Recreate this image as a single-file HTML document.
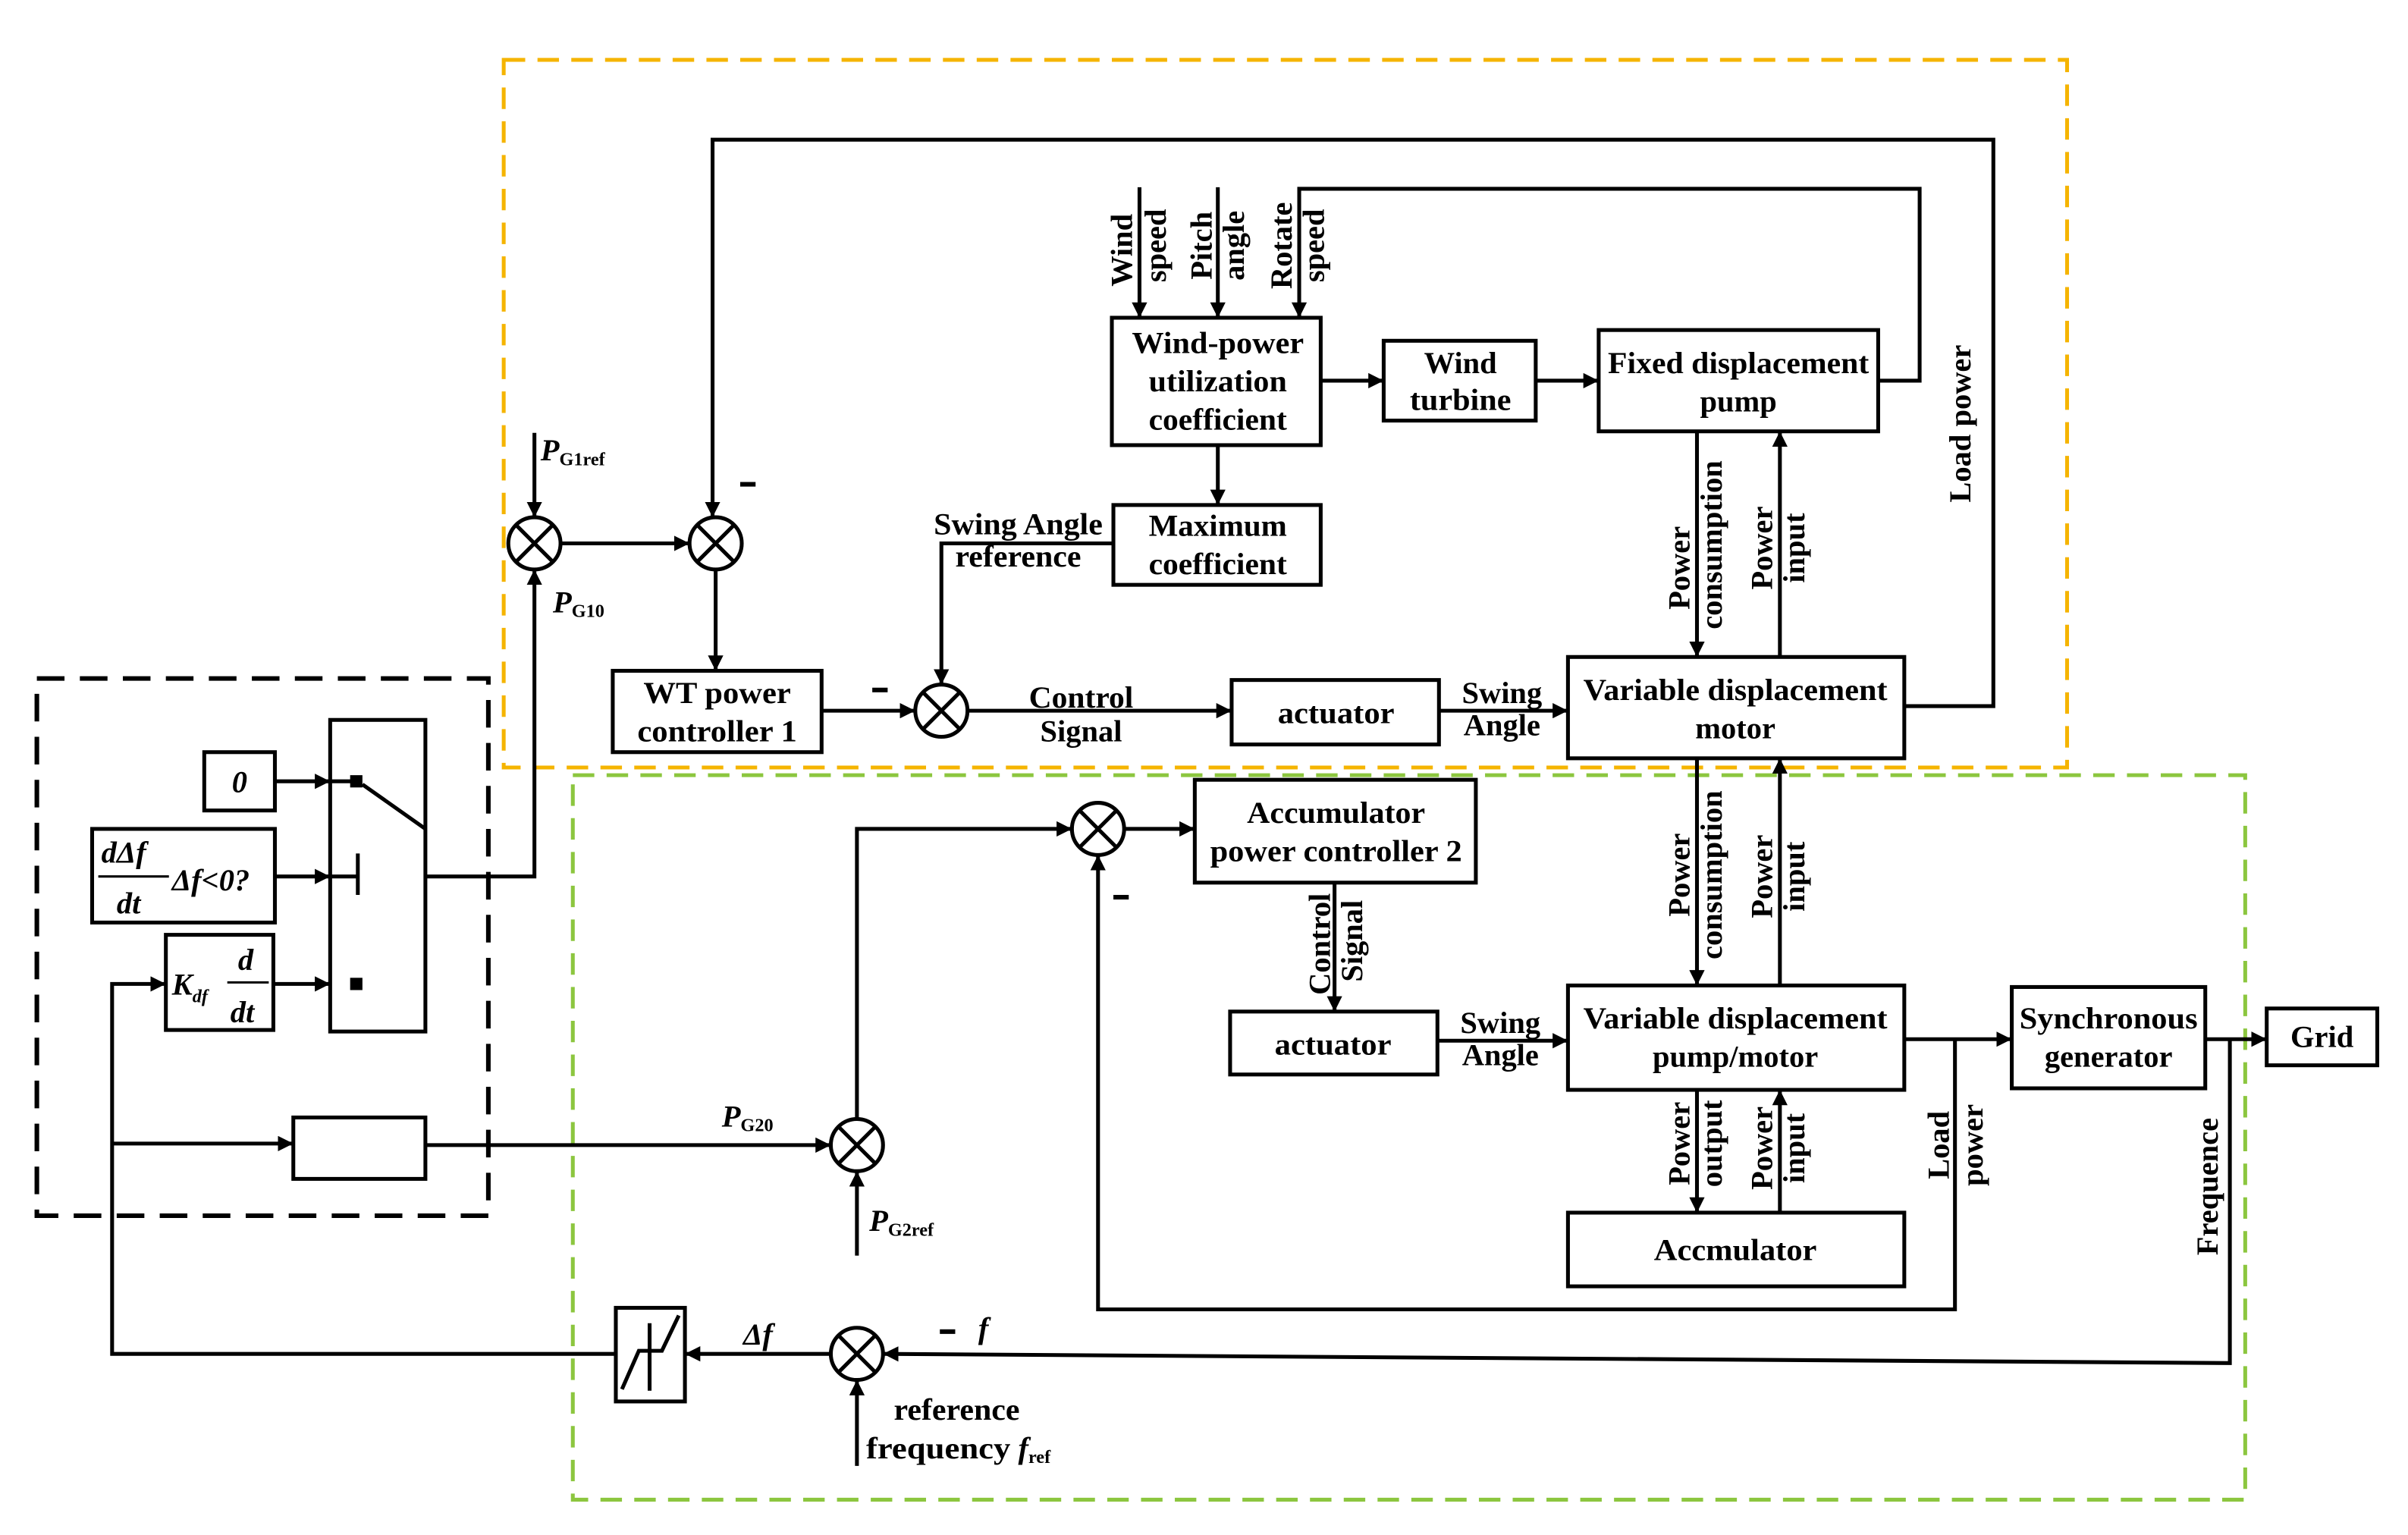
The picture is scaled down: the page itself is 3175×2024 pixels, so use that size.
<!DOCTYPE html>
<html><head><meta charset="utf-8"><style>
html,body{margin:0;padding:0;background:#fff}
svg{display:block}
text{font-family:"Liberation Serif",serif;font-weight:bold;font-size:20px;fill:#000}
.c{text-anchor:middle}
</style></head><body>
<svg width="3175" height="2024" viewBox="0 0 1568 1000" preserveAspectRatio="none" xmlns="http://www.w3.org/2000/svg">
<defs>
<marker id="a" markerWidth="10" markerHeight="10" refX="9" refY="5" orient="auto" markerUnits="userSpaceOnUse">
<path d="M0,0 L10,5 L0,10 z" fill="#000"/></marker>
</defs>
<rect x="328" y="39" width="1018" height="461" fill="none" stroke="#f5b400" stroke-width="2.5" stroke-dasharray="14,8"/>
<rect x="373" y="505" width="1089" height="472" fill="none" stroke="#8cc63f" stroke-width="2.5" stroke-dasharray="14,8"/>
<rect x="24" y="442" width="294" height="350" fill="none" stroke="#000" stroke-width="3" stroke-dasharray="18,10"/>

<g fill="none" stroke="#000" stroke-width="2.5">
<rect x="399" y="437" width="136" height="53"/>
<rect x="724" y="207" width="136" height="83"/>
<rect x="901" y="222" width="99" height="52"/>
<rect x="1041" y="215" width="182" height="66"/>
<rect x="725" y="329" width="135" height="52"/>
<rect x="802" y="443" width="135" height="42"/>
<rect x="1021" y="428" width="219" height="66"/>
<rect x="778" y="508" width="183" height="67"/>
<rect x="801" y="659" width="135" height="41"/>
<rect x="1021" y="642" width="219" height="68"/>
<rect x="1021" y="790" width="219" height="48"/>
<rect x="1310" y="643" width="126" height="66"/>
<rect x="1476" y="657" width="72" height="37"/>
<rect x="215" y="469" width="62" height="203"/>
<rect x="133" y="490" width="46" height="38"/>
<rect x="60" y="540" width="119" height="61"/>
<rect x="108" y="609" width="70" height="62"/>
<rect x="191" y="728" width="86" height="40"/>
<rect x="401" y="852" width="45" height="61"/>
<g>
<circle cx="348" cy="354" r="17"/><path d="M336,342 L360,366 M360,342 L336,366"/>
<circle cx="466" cy="354" r="17"/><path d="M454,342 L478,366 M478,342 L454,366"/>
<circle cx="613" cy="463" r="17"/><path d="M601,451 L625,475 M625,451 L601,475"/>
<circle cx="715" cy="540" r="17"/><path d="M703,528 L727,552 M727,528 L703,552"/>
<circle cx="558" cy="746" r="17"/><path d="M546,734 L570,758 M570,734 L546,758"/>
<circle cx="558" cy="882" r="17"/><path d="M546,870 L570,894 M570,870 L546,894"/>
</g>
<path d="M1240,460 H1298 V91 H464 V336" marker-end="url(#a)"/>
<path d="M348,282 V336" marker-end="url(#a)"/>
<path d="M277,571 H348 V372" marker-end="url(#a)"/>
<path d="M365,354 H448" marker-end="url(#a)"/>
<path d="M466,371 V436" marker-end="url(#a)"/>
<path d="M535,463 H595" marker-end="url(#a)"/>
<path d="M725,354 H613 V445" marker-end="url(#a)"/>
<path d="M630,463 H801" marker-end="url(#a)"/>
<path d="M937,463 H1020" marker-end="url(#a)"/>
<path d="M742,122 V206" marker-end="url(#a)"/>
<path d="M793,122 V206" marker-end="url(#a)"/>
<path d="M1223,248 H1250 V123 H846 V206" marker-end="url(#a)"/>
<path d="M860,248 H900" marker-end="url(#a)"/>
<path d="M1000,248 H1040" marker-end="url(#a)"/>
<path d="M793,290 V328" marker-end="url(#a)"/>
<path d="M1105,281 V427" marker-end="url(#a)"/>
<path d="M1159,428 V282" marker-end="url(#a)"/>
<path d="M1105,494 V641" marker-end="url(#a)"/>
<path d="M1159,642 V495" marker-end="url(#a)"/>
<path d="M1105,710 V789" marker-end="url(#a)"/>
<path d="M1159,790 V711" marker-end="url(#a)"/>
<path d="M732,540 H777" marker-end="url(#a)"/>
<path d="M558,729 V540 H697" marker-end="url(#a)"/>
<path d="M1273,677 V853 H715 V558" marker-end="url(#a)"/>
<path d="M869,575 V658" marker-end="url(#a)"/>
<path d="M936,678 H1020" marker-end="url(#a)"/>
<path d="M1240,677 H1309" marker-end="url(#a)"/>
<path d="M1436,677 H1475" marker-end="url(#a)"/>
<path d="M1452,677 V888 L576,882" marker-end="url(#a)"/>
<path d="M541,882 H447" marker-end="url(#a)"/>
<path d="M401,882 H73 V641 H107" marker-end="url(#a)"/>
<path d="M73,745 H190" marker-end="url(#a)"/>
<path d="M277,746 H540" marker-end="url(#a)"/>
<path d="M558,818 V764" marker-end="url(#a)"/>
<path d="M558,955 V900" marker-end="url(#a)"/>
<path d="M179,509 H214" marker-end="url(#a)"/>
<path d="M179,571 H214" marker-end="url(#a)"/>
<path d="M178,641 H214" marker-end="url(#a)"/>
<path d="M215,509 H232 M236,511 L277,540 M215,571 H233 M233,556 V583"/>
<path d="M405,905 L416,880 H431 L442,857 M423,862 V906"/>
<path d="M64,571 H110 M148,640 H175" stroke-width="1.5"/>
</g>
<rect x="228" y="505" width="8" height="8"/>
<rect x="228" y="637" width="8" height="8"/>
<!-- minus signs -->
<rect x="482" y="314" width="10" height="3"/>
<rect x="568" y="448" width="10" height="3"/>
<rect x="725" y="583" width="10" height="3"/>
<rect x="612" y="866" width="10" height="3"/>

<text x="467" y="458" class="c" textLength="96" lengthAdjust="spacingAndGlyphs">WT power</text>
<text x="467" y="483" class="c" textLength="104" lengthAdjust="spacingAndGlyphs">controller 1</text>
<text x="793" y="230" class="c" textLength="112" lengthAdjust="spacingAndGlyphs">Wind-power</text>
<text x="793" y="255" class="c" textLength="90" lengthAdjust="spacingAndGlyphs">utilization</text>
<text x="793" y="280" class="c" textLength="90" lengthAdjust="spacingAndGlyphs">coefficient</text>
<text x="951" y="243" class="c">Wind</text>
<text x="951" y="267" class="c" textLength="66" lengthAdjust="spacingAndGlyphs">turbine</text>
<text x="1132" y="243" class="c" textLength="170" lengthAdjust="spacingAndGlyphs">Fixed displacement</text>
<text x="1132" y="268" class="c">pump</text>
<text x="793" y="349" class="c" textLength="90" lengthAdjust="spacingAndGlyphs">Maximum</text>
<text x="793" y="374" class="c" textLength="90" lengthAdjust="spacingAndGlyphs">coefficient</text>
<text x="663" y="348" class="c" textLength="110" lengthAdjust="spacingAndGlyphs">Swing Angle</text>
<text x="663" y="369" class="c" textLength="82" lengthAdjust="spacingAndGlyphs">reference</text>
<text x="704" y="461" class="c" textLength="68" lengthAdjust="spacingAndGlyphs">Control</text>
<text x="704" y="483" class="c">Signal</text>
<text x="870" y="471" class="c" textLength="76" lengthAdjust="spacingAndGlyphs">actuator</text>
<text x="978" y="458" class="c">Swing</text>
<text x="978" y="479" class="c">Angle</text>
<text x="1130" y="456" class="c" textLength="198" lengthAdjust="spacingAndGlyphs">Variable displacement</text>
<text x="1130" y="481" class="c">motor</text>
<text x="870" y="536" class="c" textLength="116" lengthAdjust="spacingAndGlyphs">Accumulator</text>
<text x="870" y="561" class="c" textLength="164" lengthAdjust="spacingAndGlyphs">power controller 2</text>
<text x="868" y="687" class="c" textLength="76" lengthAdjust="spacingAndGlyphs">actuator</text>
<text x="977" y="673" class="c">Swing</text>
<text x="977" y="694" class="c">Angle</text>
<text x="1130" y="670" class="c" textLength="198" lengthAdjust="spacingAndGlyphs">Variable displacement</text>
<text x="1130" y="695" class="c">pump/motor</text>
<text x="1130" y="821" class="c" textLength="106" lengthAdjust="spacingAndGlyphs">Accmulator</text>
<text x="1373" y="670" class="c" textLength="116" lengthAdjust="spacingAndGlyphs">Synchronous</text>
<text x="1373" y="695" class="c">generator</text>
<text x="1512" y="682" class="c">Grid</text>
<text x="156" y="516" class="c" font-style="italic">0</text>

<g>
<text transform="translate(737,163) rotate(-90)" class="c">Wind</text>
<text transform="translate(759,160) rotate(-90)" class="c">speed</text>
<text transform="translate(789,160) rotate(-90)" class="c">Pitch</text>
<text transform="translate(810,160) rotate(-90)" class="c">angle</text>
<text transform="translate(841,160) rotate(-90)" class="c">Rotate</text>
<text transform="translate(862,160) rotate(-90)" class="c">speed</text>
<text transform="translate(1283,276) rotate(-90)" class="c">Load power</text>
<text transform="translate(1100,370) rotate(-90)" class="c">Power</text>
<text transform="translate(1121,355) rotate(-90)" class="c">consumption</text>
<text transform="translate(1154,357) rotate(-90)" class="c">Power</text>
<text transform="translate(1175,357) rotate(-90)" class="c">input</text>
<text transform="translate(1100,570) rotate(-90)" class="c">Power</text>
<text transform="translate(1121,570) rotate(-90)" class="c">consumption</text>
<text transform="translate(1154,571) rotate(-90)" class="c">Power</text>
<text transform="translate(1175,571) rotate(-90)" class="c">input</text>
<text transform="translate(1100,745) rotate(-90)" class="c">Power</text>
<text transform="translate(1121,745) rotate(-90)" class="c">output</text>
<text transform="translate(1154,748) rotate(-90)" class="c">Power</text>
<text transform="translate(1175,748) rotate(-90)" class="c">input</text>
<text transform="translate(1269,746) rotate(-90)" class="c">Load</text>
<text transform="translate(1291,746) rotate(-90)" class="c">power</text>
<text transform="translate(1444,773) rotate(-90)" class="c">Frequence</text>
<text transform="translate(866,615) rotate(-90)" class="c">Control</text>
<text transform="translate(887,613) rotate(-90)" class="c">Signal</text>
</g>

<text x="637" y="872" font-style="italic">f</text>
<text x="484" y="876" font-style="italic">Δf</text>
<text x="352" y="300" font-style="italic">P<tspan font-size="12" font-style="normal" dy="3">G1ref</tspan></text>
<text x="360" y="399" font-style="italic">P<tspan font-size="12" font-style="normal" dy="3">G10</tspan></text>
<text x="470" y="734" font-style="italic">P<tspan font-size="12" font-style="normal" dy="3">G20</tspan></text>
<text x="566" y="802" font-style="italic">P<tspan font-size="12" font-style="normal" dy="3">G2ref</tspan></text>
<text x="623" y="925" class="c" textLength="82" lengthAdjust="spacingAndGlyphs">reference</text>
<text x="564" y="950" textLength="94" lengthAdjust="spacingAndGlyphs">frequency</text>
<text x="663" y="950" font-style="italic">f<tspan font-size="12" font-style="normal" dy="3">ref</tspan></text>
<text x="66" y="562" font-style="italic">dΔf</text>
<text x="76" y="595" font-style="italic">dt</text>
<text x="112" y="580" font-style="italic">Δf&lt;0?</text>
<text x="112" y="648" font-style="italic" font-size="22">K<tspan font-size="12" dy="5">df</tspan></text>
<text x="155" y="632" font-style="italic">d</text>
<text x="150" y="666" font-style="italic">dt</text>
</svg>
</body></html>
